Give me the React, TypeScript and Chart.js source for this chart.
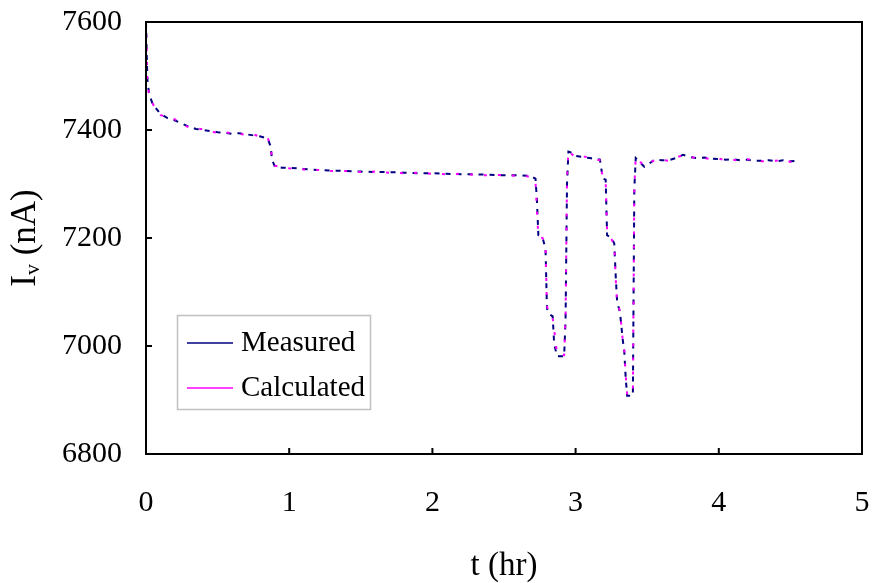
import React, { useEffect, useRef } from "react";
import { Chart, registerables } from "chart.js";

Chart.register(...registerables);

// Time (hr) and current (nA)
const T_MEASURED = [
  0, 0.005, 0.01, 0.02, 0.03, 0.05, 0.07, 0.1, 0.15, 0.2, 0.25, 0.3, 0.35, 0.4, 0.45, 0.5,
  0.55, 0.6, 0.65, 0.7, 0.75, 0.8, 0.85, 0.87, 0.88, 0.9, 0.95, 1.0, 1.1, 1.2, 1.3, 1.4,
  1.5, 1.6, 1.7, 1.8, 1.9, 2.0, 2.1, 2.2, 2.3, 2.4, 2.5, 2.6, 2.68, 2.72, 2.73, 2.74,
  2.77, 2.78, 2.79, 2.8, 2.81, 2.84, 2.85, 2.87, 2.92, 2.93, 2.94, 2.95, 2.97, 3.0,
  3.05, 3.1, 3.15, 3.17, 3.19, 3.21, 3.22, 3.25, 3.27, 3.28, 3.29, 3.31, 3.33, 3.34,
  3.35, 3.36, 3.4, 3.41, 3.42, 3.45, 3.48, 3.5, 3.55, 3.6, 3.65, 3.7, 3.75, 3.8, 3.85,
  3.9, 3.95, 4.0, 4.05, 4.1, 4.15, 4.2, 4.25, 4.3, 4.35, 4.4, 4.45, 4.5, 4.55,
];
const I_MEASURED = [
  7600, 7540, 7493, 7470, 7461, 7445, 7440, 7430, 7422, 7418, 7412, 7406, 7402, 7400, 7398, 7396,
  7395, 7393, 7394, 7392, 7390, 7388, 7384, 7370, 7345, 7332, 7330, 7330, 7328, 7326, 7325, 7324,
  7323, 7322, 7322, 7321, 7320, 7320, 7319, 7318, 7318, 7317, 7316, 7316, 7315, 7310, 7270, 7205,
  7200, 7190, 7180, 7070, 7060, 7055, 7005, 6981, 6981, 7050, 7300, 7360, 7358, 7352,
  7350, 7348, 7346, 7345, 7310, 7308, 7205, 7200, 7190, 7130, 7082, 7062, 7010, 6990,
  6940, 6908, 6908, 7290, 7348, 7340, 7332, 7335, 7345, 7344, 7344, 7348, 7354, 7350, 7348,
  7349, 7347, 7346, 7345, 7346, 7344, 7345, 7343, 7343, 7344, 7342, 7344, 7342, 7343,
];

const T_CALCULATED = [
  0, 0.005, 0.01, 0.02, 0.03, 0.05, 0.07, 0.1, 0.15, 0.2, 0.25, 0.3, 0.35, 0.4, 0.45, 0.5,
  0.55, 0.6, 0.65, 0.7, 0.75, 0.8, 0.85, 0.87, 0.88, 0.9, 0.95, 1.0, 1.1, 1.2, 1.3, 1.4,
  1.5, 1.6, 1.7, 1.8, 1.9, 2.0, 2.1, 2.2, 2.3, 2.4, 2.5, 2.6, 2.68, 2.72, 2.73, 2.74,
  2.77, 2.78, 2.79, 2.8, 2.81, 2.84, 2.86, 2.87, 2.92, 2.93, 2.94, 2.95, 2.97, 3.0,
  3.05, 3.1, 3.15, 3.17, 3.19, 3.21, 3.22, 3.25, 3.27, 3.28, 3.29, 3.31, 3.33, 3.34,
  3.35, 3.36, 3.4, 3.41, 3.42, 3.45, 3.48, 3.5, 3.55, 3.6, 3.65, 3.7, 3.75, 3.8, 3.85,
  3.9, 3.95, 4.0, 4.05, 4.1, 4.15, 4.2, 4.25, 4.3, 4.35, 4.4, 4.45, 4.5, 4.55,
];
const I_CALCULATED = [
  7600, 7545, 7490, 7468, 7463, 7447, 7438, 7428, 7423, 7420, 7411, 7405, 7403, 7401, 7397, 7395,
  7396, 7394, 7393, 7391, 7392, 7387, 7385, 7372, 7348, 7334, 7331, 7329, 7327, 7326, 7324, 7324,
  7322, 7323, 7321, 7320, 7321, 7319, 7318, 7319, 7317, 7316, 7317, 7315, 7314, 7305, 7250, 7202,
  7200, 7192, 7185, 7075, 7062, 7052, 7010, 6985, 6983, 7055, 7310, 7362, 7356, 7350,
  7351, 7349, 7345, 7344, 7312, 7306, 7210, 7198, 7188, 7125, 7080, 7065, 7008, 6992,
  6945, 6912, 6910, 7295, 7350, 7341, 7334, 7336, 7344, 7345, 7343, 7349, 7353, 7351, 7347,
  7348, 7346, 7347, 7344, 7345, 7343, 7346, 7344, 7342, 7343, 7343, 7345, 7341, 7344,
];

const X_TICKS = [0, 1, 2, 3, 4, 5];
const Y_TICKS = [6800, 7000, 7200, 7400, 7600];
const SERIES_LABELS = ["Measured", "Calculated"];
const SERIES_COLORS = ["#000080", "#FF00FF"];

const FONT = "'Liberation Serif', 'Times New Roman', serif";

const framePlugin = {
  id: "frameAndText",
  afterDraw(chart: any) {
    const { ctx, chartArea } = chart;
    const { left, right, top, bottom } = chartArea;
    const xs = chart.scales.x;
    const ys = chart.scales.y;
    ctx.save();
    ctx.strokeStyle = "#000";
    ctx.lineWidth = 2;
    ctx.strokeRect(left, top, right - left, bottom - top);
    ctx.beginPath();
    Y_TICKS.forEach((v) => {
      const y = ys.getPixelForValue(v);
      ctx.moveTo(left, y);
      ctx.lineTo(left + 6, y);
    });
    X_TICKS.forEach((v) => {
      const x = xs.getPixelForValue(v);
      ctx.moveTo(x, bottom);
      ctx.lineTo(x, bottom - 6);
    });
    ctx.stroke();

    // x title
    ctx.fillStyle = "#000";
    ctx.font = `33px ${FONT}`;
    ctx.textAlign = "center";
    ctx.textBaseline = "alphabetic";
    ctx.fillText("t (hr)", (left + right) / 2, 575);

    // y title with subscript
    ctx.save();
    ctx.translate(35, (top + bottom) / 2);
    ctx.rotate(-Math.PI / 2);
    ctx.textAlign = "left";
    const big = `35px ${FONT}`;
    const small = `22px ${FONT}`;
    ctx.font = big;
    const wI = ctx.measureText("I").width;
    const wRest = ctx.measureText(" (nA)").width;
    ctx.font = small;
    const wV = ctx.measureText("v").width;
    const total = wI + wV + wRest;
    let cx = -total / 2;
    ctx.font = big;
    ctx.fillText("I", cx, 0);
    cx += wI;
    ctx.font = small;
    ctx.fillText("v", cx, 4);
    cx += wV;
    ctx.font = big;
    ctx.fillText(" (nA)", cx, 0);
    ctx.restore();

    // legend
    const lx = 177.5, ly = 315.5, lw = 193, lh = 94;
    ctx.fillStyle = "#fff";
    ctx.fillRect(lx, ly, lw, lh);
    ctx.strokeStyle = "#c0c0c0";
    ctx.lineWidth = 1.5;
    ctx.strokeRect(lx, ly, lw, lh);
    const rows = [343, 388];
    ctx.font = `29px ${FONT}`;
    ctx.textAlign = "left";
    ctx.textBaseline = "middle";
    chart.data.datasets.forEach((ds: any) => {
      const idx = SERIES_LABELS.indexOf(ds.label);
      const y = rows[idx];
      ctx.strokeStyle = ds.borderColor;
      ctx.lineWidth = 1.5;
      ctx.beginPath();
      ctx.moveTo(187, y);
      ctx.lineTo(233, y);
      ctx.stroke();
      ctx.fillStyle = "#000";
      ctx.fillText(ds.label, 241, y);
    });
    ctx.restore();
  },
};

const zeroPad = (s: any) => {
  s.paddingTop = 0;
  s.paddingBottom = 0;
  s.paddingLeft = 0;
  s.paddingRight = 0;
};

export default function App() {
  const ref = useRef<HTMLCanvasElement | null>(null);
  useEffect(() => {
    if (!ref.current) return;
    const meas = T_MEASURED.map((t, i) => ({ x: t, y: I_MEASURED[i] }));
    const calc = T_CALCULATED.map((t, i) => ({ x: t, y: I_CALCULATED[i] }));
    const chart = new Chart(ref.current, {
      type: "line",
      data: {
        datasets: [
          {
            label: SERIES_LABELS[1],
            data: calc,
            borderColor: SERIES_COLORS[1],
            borderWidth: 2,
            borderDash: [3, 11],
            borderDashOffset: 2,
            pointRadius: 0,
            tension: 0,
            order: 0,
          },
          {
            label: SERIES_LABELS[0],
            data: meas,
            borderColor: SERIES_COLORS[0],
            borderWidth: 2,
            borderDash: [5, 6],
            pointRadius: 0,
            tension: 0,
            order: 1,
          },
        ] as any,
      },
      options: {
        animation: false,
        responsive: false,
        maintainAspectRatio: false,
        layout: { padding: { left: 0, right: 10, top: 22, bottom: 0 } },
        plugins: { legend: { display: false }, tooltip: { enabled: false } },
        scales: {
          x: {
            type: "linear",
            min: 0,
            max: 5,
            grid: { display: false, drawTicks: false },
            border: { display: false },
            ticks: {
              stepSize: 1,
              padding: 31,
              color: "#000",
              font: { family: FONT, size: 30 },
              maxRotation: 0,
              callback: (v: any) => String(v),
            },
            afterFit: (s: any) => {
              s.height = 129;
              zeroPad(s);
            },
          },
          y: {
            type: "linear",
            min: 6800,
            max: 7600,
            grid: { display: false, drawTicks: false },
            border: { display: false },
            ticks: {
              stepSize: 200,
              padding: 24,
              color: "#000",
              font: { family: FONT, size: 30 },
              callback: (v: any) => String(v),
            },
            afterFit: (s: any) => {
              s.width = 146;
              zeroPad(s);
            },
          },
        },
      },
      plugins: [framePlugin],
    });
    return () => chart.destroy();
  }, []);
  return (
    <div style={{ position: "absolute", left: 0, top: 0, width: 872, height: 583, background: "#fff" }}>
      <canvas ref={ref} width={872} height={583} />
    </div>
  );
}
